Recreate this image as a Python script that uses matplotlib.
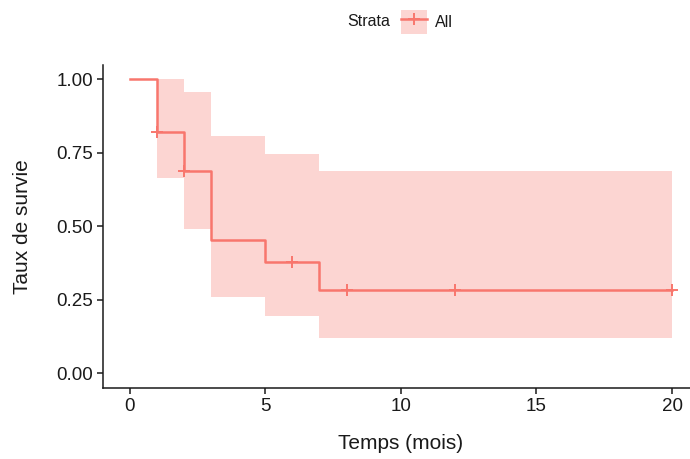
import numpy as np
import matplotlib
matplotlib.use("Agg")
from matplotlib import pyplot as plt
from matplotlib.lines import Line2D
from matplotlib.patches import Patch

plt.rcParams["font.family"] = ["Liberation Sans", "DejaVu Sans"]

# Kaplan-Meier estimate (step changes) with 95% CI
times = [0, 1, 2, 3, 5, 7, 20]
surv = [1.0, 0.82, 0.687, 0.455, 0.38, 0.285, 0.285]
lower = [1.0, 0.664, 0.491, 0.26, 0.194, 0.119, 0.119]
upper = [1.0, 1.0, 0.959, 0.809, 0.748, 0.69, 0.69]
censor_times = [1, 2, 6, 8, 12, 20]

x_ticks = [0, 5, 10, 15, 20]
y_ticks = [0.0, 0.25, 0.5, 0.75, 1.0]

LINE = "#F8766D"
TEXT = "#1a1a1a"

W, H = 690, 459
fig = plt.figure(figsize=(W / 100, H / 100), dpi=100)

# panel in pixel terms: x from -1 to 21, y from -0.05 to 1.05
left, right = 102.5, 699.2
top, bottom = 64.8, 388.0
ax = fig.add_axes([left / W, (H - bottom) / H, (right - left) / W, (bottom - top) / H])

ax.fill_between(times, lower, upper, step="post", color=LINE, alpha=0.3, lw=0)
ax.step(times, surv, where="post", color=LINE, lw=1.8)

idx = np.searchsorted(times, censor_times, side="right") - 1
censor_surv = np.array(surv)[idx]
ax.plot(censor_times, censor_surv, ls="none", marker="+", color=LINE,
        markersize=9, markeredgewidth=1.4)

ax.set_xlim(-1, 21)
ax.set_ylim(-0.05, 1.05)
ax.set_xticks(x_ticks)
ax.set_yticks(y_ticks)
ax.set_yticklabels([f"{v:.2f}" for v in y_ticks])

for side in ("top", "right"):
    ax.spines[side].set_visible(False)
for side in ("left", "bottom"):
    ax.spines[side].set_linewidth(1.1)
    ax.spines[side].set_color(TEXT)
ax.tick_params(axis="both", length=4, width=1.1, color=TEXT, labelsize=13.5,
               labelcolor=TEXT, pad=3)

ax.set_xlabel("Temps (mois)", fontsize=15, color=TEXT, labelpad=14)
ax.set_ylabel("Taux de survie", fontsize=15, color=TEXT, labelpad=17)

# legend on top: title on the left, single stratum key
fig.text(369 / W, 1 - 22 / H, "Strata", fontsize=11.5, color=TEXT,
         ha="center", va="center")
key = (Patch(facecolor=LINE, alpha=0.3, edgecolor="none"),
       Line2D([], [], color=LINE, lw=1.8, marker="+", markersize=9,
              markeredgewidth=1.4))
fig.legend([key], ["All"], loc="center left", bbox_to_anchor=(388 / W, 1 - 22 / H),
           frameon=False, fontsize=11.5, handlelength=1.65, handleheight=1.9,
           handletextpad=0.5, borderpad=0.3, labelcolor=TEXT)

fig.savefig("out.png", dpi=100)
